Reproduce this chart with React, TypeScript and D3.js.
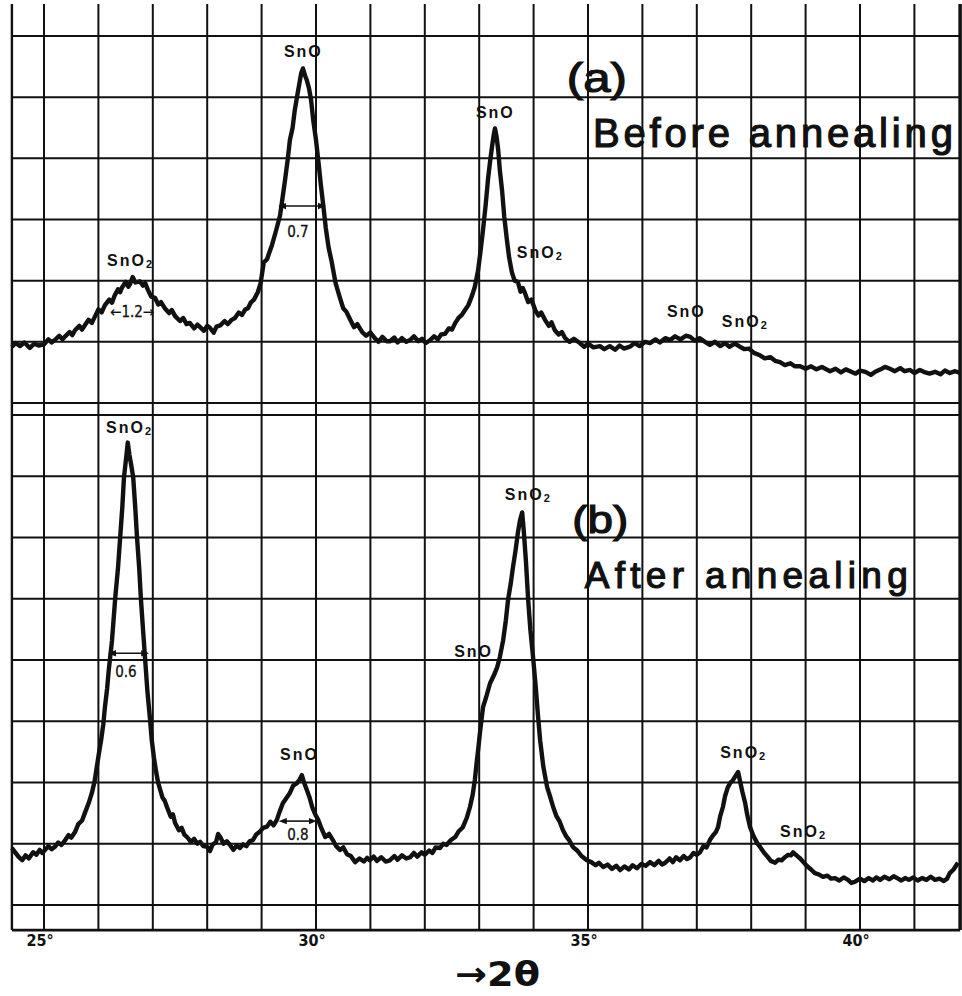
import React from "react";
import * as d3 from "d3";

// 2θ (degrees) vs intensity (arbitrary units, 10 units = one chart division)
const traceBefore: [number, number][] = [
[24.41,9.2],[24.48,9.8],[24.56,9.3],[24.64,9.9],[24.74,9.0],[24.82,9.7],[24.9,9.4],[25.0,9.6],[25.08,10.4],[25.14,9.9],[25.2,10.3],[25.28,11.0],[25.34,10.4],[25.39,10.9],[25.47,11.6],[25.52,11.1],[25.57,11.9],[25.65,12.6],[25.7,12.0],[25.75,12.7],[25.82,13.6],[25.88,13.1],[25.94,14.2],[26.0,15.3],[26.06,14.8],[26.12,16.0],[26.2,16.9],[26.25,16.4],[26.3,17.6],[26.36,18.6],[26.4,18.1],[26.43,18.8],[26.5,19.8],[26.55,19.0],[26.58,19.4],[26.63,20.6],[26.68,19.7],[26.76,19.9],[26.82,19.2],[26.86,19.6],[26.91,18.5],[26.97,17.4],[27.04,17.2],[27.1,16.1],[27.15,16.5],[27.22,15.5],[27.3,14.7],[27.35,15.2],[27.41,14.2],[27.5,13.4],[27.56,13.9],[27.62,12.9],[27.68,13.1],[27.76,12.2],[27.82,12.8],[27.87,12.4],[27.94,11.8],[28.0,12.6],[28.05,12.3],[28.12,11.5],[28.17,12.5],[28.24,12.7],[28.32,13.4],[28.38,12.9],[28.45,13.6],[28.51,13.9],[28.58,14.8],[28.64,14.4],[28.7,15.3],[28.75,15.5],[28.8,16.4],[28.86,16.9],[28.93,18.1],[28.98,19.5],[29.04,23.0],[29.1,23.5],[29.15,24.8],[29.19,25.8],[29.26,28.0],[29.34,30.7],[29.43,36.4],[29.48,39.8],[29.52,43.0],[29.57,45.0],[29.61,47.9],[29.66,50.5],[29.69,52.0],[29.73,54.0],[29.76,54.7],[29.8,53.5],[29.83,52.8],[29.87,51.5],[29.91,49.5],[29.95,46.2],[30.0,43.0],[30.05,39.0],[30.09,35.6],[30.14,31.8],[30.18,28.6],[30.23,25.5],[30.29,23.0],[30.36,19.6],[30.44,17.2],[30.5,15.5],[30.56,14.9],[30.63,13.6],[30.7,12.4],[30.76,12.9],[30.85,11.6],[30.92,11.0],[31.0,11.5],[31.08,10.6],[31.15,10.0],[31.22,10.8],[31.3,10.1],[31.36,10.1],[31.44,10.7],[31.5,9.9],[31.58,10.6],[31.66,10.0],[31.73,10.3],[31.8,10.9],[31.88,10.1],[31.95,10.5],[32.02,9.8],[32.1,10.3],[32.17,10.9],[32.24,10.4],[32.3,11.2],[32.37,11.3],[32.44,12.2],[32.5,12.0],[32.56,13.1],[32.62,13.9],[32.68,14.4],[32.74,15.2],[32.8,16.0],[32.87,17.6],[32.92,19.0],[32.98,21.7],[33.02,24.5],[33.07,28.3],[33.12,32.5],[33.16,36.4],[33.2,39.5],[33.24,42.2],[33.27,44.0],[33.29,44.9],[33.32,43.5],[33.35,41.3],[33.38,38.0],[33.42,34.8],[33.46,30.5],[33.51,26.6],[33.55,23.8],[33.6,21.4],[33.65,20.0],[33.71,19.8],[33.76,18.2],[33.8,18.8],[33.84,18.0],[33.9,16.5],[33.96,16.9],[34.03,15.2],[34.09,14.3],[34.14,14.8],[34.21,13.6],[34.28,12.6],[34.33,13.2],[34.39,11.9],[34.46,11.2],[34.52,11.6],[34.58,10.6],[34.66,10.0],[34.74,10.5],[34.85,9.8],[34.93,9.2],[35.0,9.7],[35.1,9.1],[35.22,9.3],[35.3,8.8],[35.4,9.3],[35.5,8.7],[35.58,9.4],[35.66,8.9],[35.77,9.2],[35.86,9.8],[35.95,9.3],[36.05,10.0],[36.14,9.8],[36.24,10.4],[36.32,9.9],[36.42,10.6],[36.51,10.3],[36.6,10.9],[36.7,10.4],[36.8,11.0],[36.88,10.8],[36.96,10.2],[37.05,10.6],[37.15,10.0],[37.24,9.5],[37.33,10.0],[37.43,9.3],[37.52,9.8],[37.6,9.2],[37.7,9.7],[37.79,9.2],[37.88,8.8],[37.96,8.9],[38.05,8.2],[38.16,7.8],[38.25,7.3],[38.35,7.5],[38.44,6.9],[38.53,6.7],[38.62,6.2],[38.72,6.5],[38.8,6.0],[38.9,6.0],[39.0,5.6],[39.1,6.0],[39.2,5.5],[39.3,5.9],[39.36,5.6],[39.45,5.2],[39.55,5.6],[39.65,5.0],[39.74,5.5],[39.82,5.2],[39.92,4.8],[40.0,5.3],[40.1,5.1],[40.2,4.6],[40.28,5.1],[40.38,5.5],[40.46,5.9],[40.55,5.6],[40.64,5.2],[40.74,5.7],[40.82,5.2],[40.92,5.4],[41.0,4.9],[41.1,5.4],[41.2,5.0],[41.28,4.8],[41.38,5.1],[41.48,4.7],[41.56,5.3],[41.65,4.9],[41.75,5.2],[41.84,4.9]
];

const traceAfter: [number, number][] = [
[24.41,9.3],[24.47,8.6],[24.53,7.9],[24.6,7.3],[24.66,8.1],[24.72,7.6],[24.8,8.6],[24.86,8.2],[24.92,9.0],[24.97,8.5],[25.02,9.0],[25.08,9.6],[25.14,9.1],[25.2,9.5],[25.26,10.2],[25.32,9.8],[25.39,10.6],[25.45,11.4],[25.5,11.0],[25.57,11.9],[25.63,13.2],[25.7,13.8],[25.75,15.0],[25.82,16.6],[25.88,18.3],[25.93,20.2],[25.97,22.5],[26.01,24.8],[26.05,26.9],[26.09,29.5],[26.12,32.3],[26.16,35.3],[26.19,38.3],[26.25,43.2],[26.31,50.2],[26.36,55.0],[26.4,60.0],[26.44,65.0],[26.47,69.8],[26.51,73.0],[26.54,75.5],[26.57,73.5],[26.6,72.0],[26.64,69.8],[26.68,64.5],[26.71,60.0],[26.75,55.0],[26.78,50.2],[26.82,45.0],[26.86,40.0],[26.9,35.0],[26.95,30.2],[26.98,27.0],[27.02,24.1],[27.06,21.8],[27.1,19.9],[27.18,17.5],[27.22,17.0],[27.26,16.0],[27.33,14.4],[27.37,14.8],[27.41,13.4],[27.48,12.2],[27.53,12.6],[27.58,11.5],[27.63,11.1],[27.7,10.3],[27.76,10.8],[27.82,10.0],[27.87,10.3],[27.93,9.6],[28.0,9.5],[28.05,8.8],[28.1,9.9],[28.16,10.2],[28.2,11.6],[28.24,11.1],[28.3,10.0],[28.36,10.4],[28.42,9.8],[28.48,9.0],[28.54,9.7],[28.6,9.3],[28.66,9.9],[28.72,9.6],[28.78,10.4],[28.84,10.6],[28.9,11.5],[28.96,11.9],[29.03,12.6],[29.1,12.8],[29.16,13.6],[29.22,13.0],[29.28,13.9],[29.33,15.2],[29.39,16.6],[29.45,17.4],[29.52,18.3],[29.58,19.5],[29.65,19.9],[29.7,20.5],[29.74,21.2],[29.78,20.0],[29.83,18.8],[29.88,17.6],[29.93,16.0],[29.98,14.9],[30.04,13.9],[30.1,12.5],[30.17,11.1],[30.24,11.6],[30.31,10.6],[30.37,9.6],[30.44,9.0],[30.5,9.4],[30.57,8.3],[30.64,8.0],[30.72,7.0],[30.8,7.6],[30.88,7.1],[30.94,7.7],[30.99,7.3],[31.06,7.9],[31.12,7.2],[31.2,7.8],[31.28,7.1],[31.36,7.3],[31.44,8.0],[31.5,7.4],[31.58,8.1],[31.66,7.6],[31.73,7.8],[31.8,8.5],[31.86,7.9],[31.94,8.6],[32.0,8.2],[32.08,8.9],[32.14,8.5],[32.2,9.4],[32.28,9.3],[32.34,10.0],[32.4,9.8],[32.48,10.6],[32.56,11.1],[32.62,12.0],[32.7,12.7],[32.77,14.2],[32.83,16.0],[32.88,18.0],[32.92,20.4],[32.95,23.0],[32.98,25.3],[33.02,28.6],[33.07,32.3],[33.13,34.0],[33.2,36.2],[33.27,37.5],[33.33,38.8],[33.38,40.5],[33.44,43.2],[33.49,46.5],[33.53,49.8],[33.58,52.5],[33.62,55.1],[33.67,58.0],[33.71,60.7],[33.75,62.8],[33.79,64.1],[33.82,61.0],[33.86,56.0],[33.9,49.8],[33.94,45.0],[33.99,40.5],[34.04,35.5],[34.08,31.0],[34.12,26.9],[34.18,22.5],[34.25,19.2],[34.3,17.8],[34.36,16.0],[34.42,14.5],[34.48,13.6],[34.54,12.2],[34.6,11.2],[34.66,10.5],[34.72,9.5],[34.8,8.9],[34.88,8.0],[34.98,7.3],[35.06,7.0],[35.14,6.5],[35.2,6.9],[35.28,6.2],[35.36,6.6],[35.44,5.9],[35.52,6.4],[35.59,5.7],[35.67,6.3],[35.75,5.8],[35.82,6.5],[35.9,6.0],[35.98,6.7],[36.06,6.4],[36.14,7.0],[36.22,6.5],[36.3,7.2],[36.36,6.6],[36.42,6.9],[36.5,7.6],[36.56,7.0],[36.62,7.8],[36.69,7.3],[36.76,8.0],[36.82,7.5],[36.88,7.8],[36.94,8.5],[37.0,8.2],[37.06,8.6],[37.12,9.6],[37.18,9.4],[37.24,10.6],[37.3,11.4],[37.35,11.9],[37.39,12.7],[37.43,14.5],[37.48,16.0],[37.52,17.8],[37.57,19.2],[37.62,20.0],[37.66,20.3],[37.7,20.9],[37.73,21.3],[37.76,21.7],[37.8,20.0],[37.84,18.4],[37.89,16.6],[37.93,14.6],[37.98,12.7],[38.04,11.3],[38.11,10.1],[38.17,9.4],[38.24,8.5],[38.3,7.9],[38.36,7.2],[38.44,6.9],[38.5,7.4],[38.56,7.3],[38.62,7.8],[38.68,8.2],[38.73,8.1],[38.77,8.6],[38.82,8.2],[38.86,7.9],[38.9,7.6],[38.96,7.0],[39.02,6.4],[39.1,5.8],[39.17,5.2],[39.24,5.0],[39.32,4.6],[39.4,4.8],[39.47,4.3],[39.54,4.4],[39.62,4.0],[39.7,4.5],[39.78,4.1],[39.84,3.6],[39.91,3.8],[40.0,4.3],[40.08,3.9],[40.16,4.4],[40.24,4.0],[40.3,4.5],[40.37,4.1],[40.45,4.6],[40.54,4.2],[40.62,4.7],[40.7,4.3],[40.76,4.0],[40.83,4.4],[40.9,4.1],[40.98,4.5],[41.06,4.0],[41.14,4.4],[41.22,4.1],[41.3,4.6],[41.38,4.1],[41.46,4.3],[41.54,3.9],[41.6,4.3],[41.65,5.2],[41.72,5.8],[41.8,6.9]
];

const xTicks = [25, 30, 35, 40];
const xTickLabels = ["25°", "30°", "35°", "40°"];

// phase labels: [2θ, intensity, phase, subscript]
const labelsBefore: [number, number, string, string][] = [
  [26.16, 22.4, "SnO", "2"],
  [29.41, 56.5, "SnO", ""],
  [32.94, 46.6, "SnO", ""],
  [33.69, 23.7, "SnO", "2"],
  [36.45, 14.1, "SnO", ""],
  [37.46, 12.4, "SnO", "2"],
];
const labelsAfter: [number, number, string, string][] = [
  [26.14, 77.0, "SnO", "2"],
  [29.34, 23.7, "SnO", ""],
  [32.54, 40.5, "SnO", ""],
  [33.47, 66.1, "SnO", "2"],
  [37.43, 24.0, "SnO", "2"],
  [38.53, 11.1, "SnO", "2"],
];

// FWHM markers: [from 2θ, to 2θ, intensity]
const fwhmBefore = { from: 29.38, to: 30.11, level: 32.2, text: "0.7", tx: 29.47, ty: 27.1 };
const fwhmAfter1 = { from: 26.25, to: 26.86, level: 41.1, text: "0.6", tx: 26.31, ty: 37.2 };
const fwhmAfter2 = { from: 29.39, to: 29.94, level: 13.7, text: "0.8", tx: 29.47, ty: 10.6 };

export default function App() {
  const W = 962, H = 996;
  const x = d3.scaleLinear().domain([25, 40]).range([44, 860]);
  const yA = d3.scaleLinear().domain([0, 60]).range([403, 36]);
  const yB = d3.scaleLinear().domain([0, 80]).range([905, 415]);
  const xL = x(24.41), xR = x(41.84);
  const yTop = 4, yBottom = yB(-4.1);

  const lineA = d3.line<[number, number]>().x(d => x(d[0])).y(d => yA(d[1]));
  const lineB = d3.line<[number, number]>().x(d => x(d[0])).y(d => yB(d[1]));

  const vLines = d3.range(25, 42);
  const hA = d3.range(0, 61, 10);
  const hB = d3.range(0, 81, 10);

  const ink = "#111";
  const labFont = "'Liberation Sans', Arial, sans-serif";
  const narrow = "'Liberation Sans Narrow', 'DejaVu Sans Condensed', 'Liberation Sans', sans-serif";

  const phaseLabel = (l: [number, number, string, string], y: (v: number) => number, i: number) => (
    <text key={i} x={x(l[0])} y={y(l[1])} fontFamily={labFont} fontWeight={700} fontSize={16} letterSpacing={2} fill={ink}>
      {l[2]}
      {l[3] ? <tspan fontSize={11} dy={2}>{l[3]}</tspan> : null}
    </text>
  );

  const fwhm = (f: typeof fwhmBefore, y: (v: number) => number, key: string) => (
    <g key={key}>
      <line x1={x(f.from)} x2={x(f.to)} y1={y(f.level)} y2={y(f.level)} stroke={ink} strokeWidth={1.6} markerStart="url(#arr)" markerEnd="url(#arr)" />
      <rect x={x(f.tx) - 2} y={y(f.ty) - 13} width={25} height={15} fill="white" />
      <text x={x(f.tx)} y={y(f.ty)} fontFamily={narrow} fontSize={15} fill={ink} stroke={ink} strokeWidth={0.3}>{f.text}</text>
    </g>
  );

  return (
    <svg width={W} height={H} style={{ position: "absolute", left: 0, top: 0, background: "white" }}>
      <defs>
        <marker id="arr" viewBox="0 0 10 10" refX="5" refY="5" markerWidth="5" markerHeight="5" orient="auto-start-reverse">
          <path d="M0,1 L10,5 L0,9 z" fill={ink} />
        </marker>
      </defs>
      <rect x={0} y={0} width={W} height={H} fill="white" />
      {/* grid */}
      <g stroke={ink}>
        {vLines.map(v => (
          <line key={"v" + v} x1={x(v)} x2={x(v)} y1={yTop} y2={yBottom} strokeWidth={2} />
        ))}
        {hA.map(v => (
          <line key={"ha" + v} x1={xL} x2={xR} y1={yA(v)} y2={yA(v)} strokeWidth={2} />
        ))}
        {hB.map(v => (
          <line key={"hb" + v} x1={xL} x2={xR} y1={yB(v)} y2={yB(v)} strokeWidth={2} />
        ))}
        <line x1={xL} x2={xL} y1={yTop} y2={yBottom} strokeWidth={2.4} />
        <line x1={xR} x2={xR} y1={yTop} y2={yBottom} strokeWidth={3.5} />
        <line x1={xL} x2={xR} y1={yBottom} y2={yBottom} strokeWidth={2.8} />
      </g>

      {/* panel texts */}
      <g fontFamily={labFont} fill={ink} stroke={ink} strokeWidth={1.2}>
        <text x={x(34.61)} y={yA(50.8)} fontSize={40} textLength={60} lengthAdjust="spacingAndGlyphs">(a)</text>
        <text x={x(35.09)} y={yA(41.8)} fontSize={40} textLength={360} lengthAdjust="spacing">Before annealing</text>
        <text x={x(34.71)} y={yB(60.7)} fontSize={38} textLength={56} lengthAdjust="spacingAndGlyphs">(b)</text>
        <text x={x(34.94)} y={yB(51.7)} fontSize={37} textLength={323} lengthAdjust="spacing">After annealing</text>
      </g>

      {/* traces */}
      <path d={lineA(traceBefore) || ""} fill="none" stroke={ink} strokeWidth={4.4} strokeLinejoin="round" />
      <path d={lineB(traceAfter) || ""} fill="none" stroke={ink} strokeWidth={4.4} strokeLinejoin="round" />

      {/* phase labels */}
      {labelsBefore.map((l, i) => phaseLabel(l, yA, i))}
      {labelsAfter.map((l, i) => phaseLabel(l, yB, 100 + i))}

      {/* FWHM annotations */}
      {fwhm(fwhmBefore, yA, "f1")}
      {fwhm(fwhmAfter1, yB, "f2")}
      {fwhm(fwhmAfter2, yB, "f3")}
      <text x={x(26.62)} y={yA(14.0)} textAnchor="middle" fontFamily={narrow} fontSize={15} fill={ink} stroke={ink} strokeWidth={0.3}>←1.2→</text>

      {/* x tick labels */}
      {xTicks.map((t, i) => (
        <text key={"t" + t} x={x(t) - 4} y={946} textAnchor="middle" fontFamily={narrow} fontWeight={700} fontSize={16} fill={ink}>{xTickLabels[i]}</text>
      ))}
      <text x={455} y={986} fontFamily={narrow} fontWeight={700} fontSize={34} fill={ink} textLength={85} lengthAdjust="spacingAndGlyphs">→2θ</text>
    </svg>
  );
}
